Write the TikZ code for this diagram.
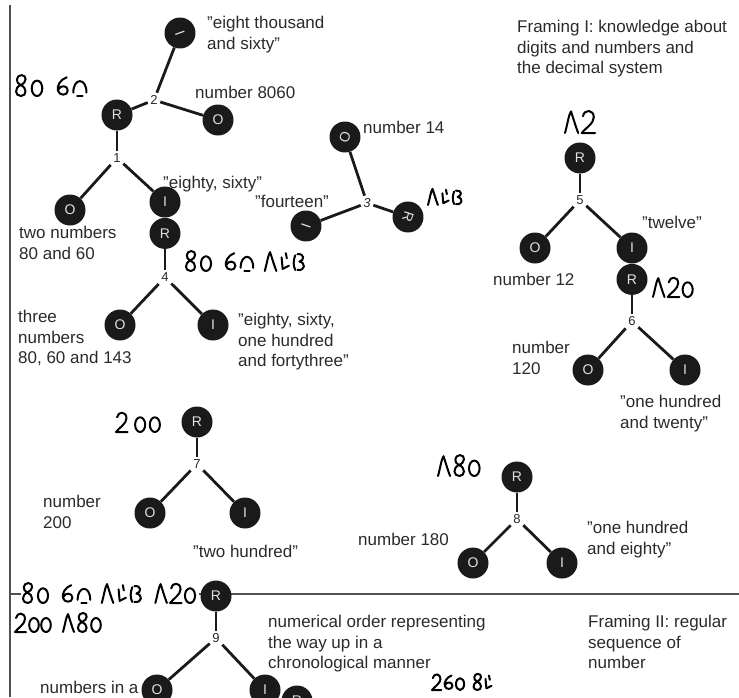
\documentclass[tikz,border=0pt]{standalone}
\usepackage{fontspec}
\setmainfont{Liberation Sans}
\usetikzlibrary{positioning}

\definecolor{inkblack}{HTML}{1A1A1A}
\definecolor{txtgray}{HTML}{2A2A2A}
\definecolor{rulegray}{HTML}{505050}

\tikzstyle{part} = [circle, fill=inkblack, text=white!88!black, minimum size=31pt,
    inner sep=0pt, font=\fontsize{14}{14}\selectfont]
\tikzstyle{stage} = [inner sep=2.5pt, text=txtgray, font=\fontsize{13}{13}\selectfont]
\tikzstyle{caption} = [anchor=north west, align=left, inner sep=0pt, text=txtgray,
    font=\fontsize{17}{20.5}\selectfont]
\tikzstyle{link} = [draw, line width=2.8pt, inkblack]
\tikzstyle{scribble} = [line width=2pt, line cap=round, line join=round, black]
\tikzstyle{divider} = [line width=2.4pt, rulegray]

% handwritten digits
\newcommand{\gEight}{\draw[scribble] (5,-10) .. controls (0,-12) and (1,-19) .. (6,-19)
    .. controls (11,-19) and (11,-12) .. (5,-10) .. controls (-1,-7) and (0,0) .. (5.5,0)
    .. controls (11,0) and (11,-8) .. (5,-10);}
\newcommand{\gZero}{\draw[scribble] (5,-7) ellipse [x radius=4.8, y radius=7];}
\newcommand{\gSix}{\draw[scribble] (9,-17) .. controls (3,-15) and (0,-9) .. (1,-5)
    .. controls (2,0) and (10,0) .. (10,-5) .. controls (10,-10) and (3,-10) .. (1.5,-6);}
\newcommand{\gDome}{\draw[scribble] (0,-3) .. controls (0,-17) and (12,-17) .. (12,-3);
    \draw[scribble] (3.5,0) -- (8.5,0);}
\newcommand{\gOne}{\draw[scribble] (0,0) .. controls (2,-7) and (3,-15) .. (5,-18)
    .. controls (7,-12) and (9,-5) .. (11,0);}
\newcommand{\gFour}{\draw[scribble] (1,-13) -- (2,-2) -- (8,-5);
    \draw[scribble] (5,-17) -- (6,-12);}
\newcommand{\gThree}{\draw[scribble] (1,-15) .. controls (-1,-10) and (-1,-5) .. (1,-1);
    \draw[scribble] (3,-16) .. controls (10,-17) and (10,-10) .. (5,-9)
    .. controls (11,-8) and (11,0) .. (3,-1);}
\newcommand{\gTwo}{\draw[scribble] (1,-14) .. controls (2,-20) and (10,-20) .. (10,-13)
    .. controls (10,-8) and (3,-4) .. (0,0) -- (11,0);}
\newcommand{\scrawl}[3]{%
  \begin{scope}[shift={#1}, scale=#2]
    \foreach \g/\dx in {#3} {
      \begin{scope}[shift={(\dx,0)}]
        \csname g\g\endcsname
      \end{scope}
    }
  \end{scope}}

\begin{document}
\begin{tikzpicture}[x=1pt, y=-1pt]
    \useasboundingbox (0,0) rectangle (739,697);
    \clip (0,0) rectangle (739,697);

    \draw[divider] (10,5) -- (10,697);
    \draw[divider] (10,594) -- (21,594);
    \draw[divider] (199,594) -- (739,594);

    % trees 1, 2 and 4
    \node[part] (root1) at (117,115) {R};
    \node[stage, below=20pt of root1] (n1) {1};
    \node[part] (out1) at (70,210) {O};
    \node[part] (in1) at (165,202) {I};
    \node[stage] (n2) at (154,100) {2};
    \node[part] (out2) at (218,120) {O};
    \node[part, rotate=110] (in2) at (180,33) {I};
    \node[part, below=0pt of in1] (root4) {R};
    \node[stage, below=21pt of root4] (n4) {4};
    \node[part] (out4) at (120,325) {O};
    \node[part] (in4) at (213,325) {I};

    % tree 3
    \node[part, rotate=-109] (root3) at (408,217) {R};
    \node[stage, font=\fontsize{13}{13}\itshape] (n3) at (367,203) {3};
    \node[part, rotate=-109] (out3) at (345,137) {O};
    \node[part, rotate=-109] (in3) at (306,226) {I};

    % trees 5 and 6
    \node[part] (root5) at (580,158) {R};
    \node[stage, below=19pt of root5] (n5) {5};
    \node[part] (out5) at (535,248) {O};
    \node[part] (in5) at (632,248) {I};
    \node[part, below=0pt of in5] (root6) {R};
    \node[stage, below=19pt of root6] (n6) {6};
    \node[part] (out6) at (588,370) {O};
    \node[part] (in6) at (685,370) {I};

    % trees 7 and 8
    \node[part] (root7) at (197,422) {R};
    \node[stage, below=19pt of root7] (n7) {7};
    \node[part] (out7) at (150,513) {O};
    \node[part] (in7) at (245,513) {I};
    \node[part] (root8) at (517,477) {R};
    \node[stage, below=19pt of root8] (n8) {8};
    \node[part] (out8) at (473,563) {O};
    \node[part] (in8) at (562,563) {I};

    % tree 9
    \node[part] (root9) at (216,596) {R};
    \node[stage, below=19pt of root9] (n9) {9};
    \node[part] (out9) at (157,690) {O};
    \node[part] (in9) at (265,690) {I};
    \node[part] (root10) at (297,701) {R};

    \path[link] (root1) -- (n1);
    \path[link] (n1) -- (out1);
    \path[link] (n1) -- (in1);
    \path[link] (root1) -- (n2);
    \path[link] (n2) -- (out2);
    \path[link] (n2) -- (in2);
    \path[link] (root4) -- (n4);
    \path[link] (n4) -- (out4);
    \path[link] (n4) -- (in4);
    \path[link] (root3) -- (n3);
    \path[link] (n3) -- (out3);
    \path[link] (n3) -- (in3);
    \path[link] (root5) -- (n5);
    \path[link] (n5) -- (out5);
    \path[link] (n5) -- (in5);
    \path[link] (root6) -- (n6);
    \path[link] (n6) -- (out6);
    \path[link] (n6) -- (in6);
    \path[link] (root7) -- (n7);
    \path[link] (n7) -- (out7);
    \path[link] (n7) -- (in7);
    \path[link] (root8) -- (n8);
    \path[link] (n8) -- (out8);
    \path[link] (n8) -- (in8);
    \path[link] (root9) -- (n9);
    \path[link] (n9) -- (out9);
    \path[link] (n9) -- (in9);

    % texts
    \node[caption] (eightThousand) at (207,16) {"eight thousand\\and sixty"};
    \node[caption] (number8060) at (195,86) {number 8060};
    \node[caption] (eightySixty) at (163,176) {"eighty, sixty"};
    \node[caption] (twoNumbers) at (19,226) {two numbers\\80 and 60};
    \node[caption] (fourteen) at (255,195) {"fourteen"};
    \node[caption] (number14) at (363,121) {number 14};
    \node[caption] (threeNumbers) at (18,310) {three\\numbers\\80, 60 and 143};
    \node[caption] (eightySixtyMore) at (238,313) {"eighty, sixty,\\one hundred\\and fortythree"};
    \node[caption] (framingOne) at (517,20) {Framing I: knowledge about\\digits and numbers and\\the decimal system};
    \node[caption] (twelve) at (642,216) {"twelve"};
    \node[caption] (number12) at (493,273) {number 12};
    \node[caption] (number120) at (512,341) {number\\120};
    \node[caption] (oneTwenty) at (620,395) {"one hundred\\and twenty"};
    \node[caption] (number200) at (43,495) {number\\200};
    \node[caption] (twoHundred) at (193,545) {"two hundred"};
    \node[caption] (number180) at (358,533) {number 180};
    \node[caption] (oneEighty) at (587,521) {"one hundred\\and eighty"};
    \node[caption] (numericalOrder) at (268,615) {numerical order representing\\the way up in a\\chronological manner};
    \node[caption] (framingTwo) at (588,615) {Framing II: regular\\sequence of\\number};
    \node[caption] (numbersInA) at (40,681) {numbers in a};

    % handwriting
    \scrawl{(15,96)}{1.1}{Eight/0,Zero/15,Six/38,Dome/53}
    \scrawl{(185,271)}{1.05}{Eight/0,Zero/15,Six/38,Dome/53,One/76,Four/91,Three/104}
    \scrawl{(428,205)}{0.9}{One/0,Four/15,Three/28}
    \scrawl{(565,133)}{1.2}{One/0,Two/14}
    \scrawl{(653,297)}{1.05}{One/0,Two/14,Zero/28}
    \scrawl{(116,432)}{1.05}{Two/0,Zero/18,Zero/32}
    \scrawl{(438,476)}{1.1}{One/0,Eight/14,Zero/28}
    \scrawl{(22,603)}{1.05}{Eight/0,Zero/15,Six/38,Dome/53,One/76,Four/91,Three/104,One/127,Two/141,Zero/155}
    \scrawl{(15,632)}{1.0}{Two/0,Zero/14,Zero/26,One/48,Eight/62,Zero/76}
    \scrawl{(432,690)}{0.85}{Two/0,Six/14,Zero/28,Eight/48,Four/62}
\end{tikzpicture}
\end{document}
